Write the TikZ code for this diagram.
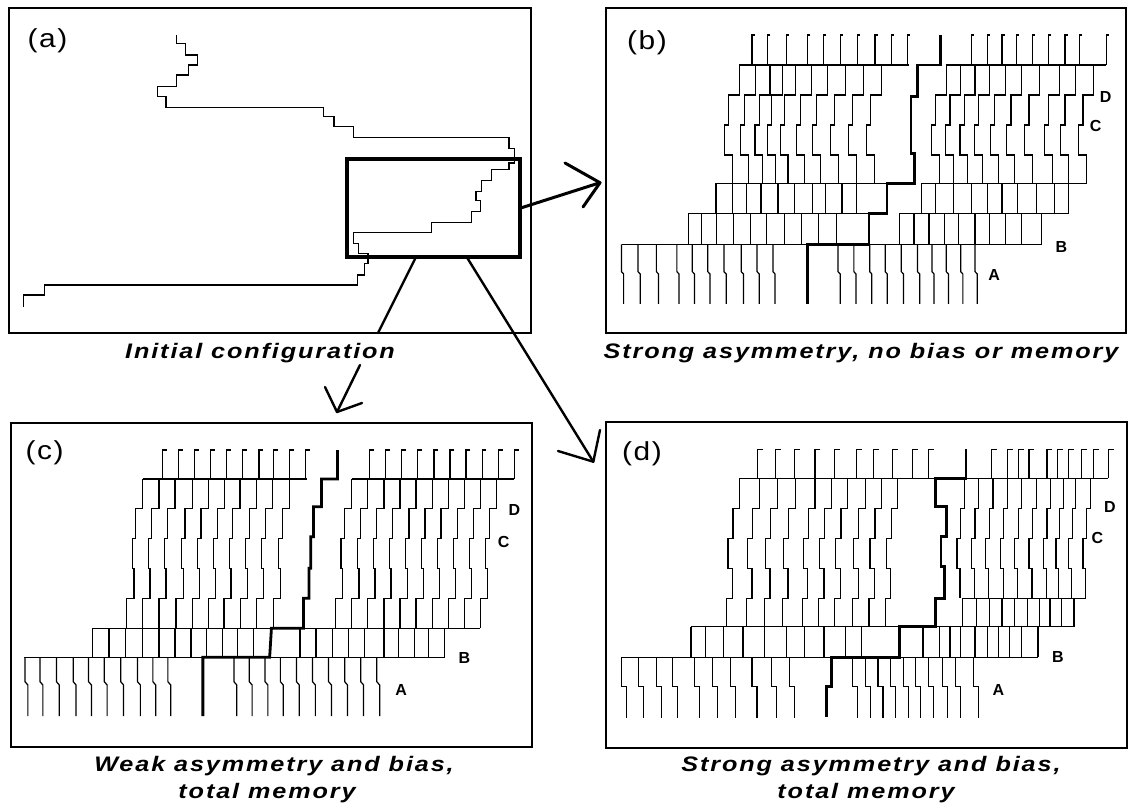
\documentclass[tikz,border=0pt]{standalone}
\usepackage{fontspec}
\newfontfamily\capfont[LetterSpace=9,FakeStretch=1.2]{Liberation Sans}
\newfontfamily\labfont[LetterSpace=6,FakeStretch=1.15]{Liberation Sans}
\newfontfamily\abcfont{Liberation Sans}
\tikzset{
  pat/.style={line width=1.2pt},
  thk/.style={line width=2.8pt},
  frame/.style={line width=1.3pt},
  zoombox/.style={line width=3.6pt},
  arr/.style={line width=2.4pt, line cap=round, line join=round},
  captxt/.style={font=\capfont\bfseries\itshape\fontsize{21}{24}\selectfont, inner sep=0pt, anchor=base},
  plab/.style={font=\labfont\fontsize{26}{28}\selectfont, inner sep=0pt},
  glab/.style={font=\abcfont\bfseries\fontsize{16}{16}\selectfont, inner sep=0pt}
}
\begin{document}
\begin{tikzpicture}[x=1pt,y=-1pt]
\useasboundingbox (0,0) rectangle (1129,805);
\fill[white] (0,0) rectangle (1129,805);

% ---------------- panel frames ----------------
\draw[frame] (9,8) rectangle (531,333);
\draw[frame] (606,8) rectangle (1126,333);
\draw[frame] (11,423) rectangle (532,747);
\draw[frame] (606,422) rectangle (1127,748);

% ---------------- panel labels ----------------
\node[plab] (la) at (47.5,40.5) {(a)};
\node[plab] (lb) at (647,42.5) {(b)};
\node[plab] (lc) at (44.6,452.5) {(c)};
\node[plab] (ld) at (642,454) {(d)};

% ---------------- captions ----------------
\node[captxt] (ca) at (260,358) {Initial configuration};
\node[captxt] (cb) at (861,358) {Strong asymmetry, no bias or memory};
\node[captxt] (cc1) at (274,771.7) {Weak asymmetry and bias,};
\node[captxt] (cc2) at (267,798.3) {total memory};
\node[captxt] (cd1) at (871,771.7) {Strong asymmetry and bias,};
\node[captxt] (cd2) at (866,798.3) {total memory};

% ---------------- panel (a) ----------------
\draw[pat] (176.8,35)--(176.8,43.3)--(185.7,43.3)--(185.7,55)--(197.5,55)--(197.5,65)
  --(188.6,65)--(188.6,75)--(176.8,75)--(176.8,86.7)--(157.1,86.7)--(157.1,96.7)
  --(166,96.7)--(166,107.3)--(323.2,107.3)--(323.2,116.7)--(333.9,116.7)--(333.9,126.7)
  --(353.6,126.7)--(353.6,137.7)--(508.9,137.7)--(508.9,148.3)--(514.3,148.3)--(514.3,163)
  --(509,163)--(509,169.3)--(491.7,169.3)--(491.7,180.7)--(481.7,180.7)--(481.7,191.7)
  --(476,191.7)--(476,200.7)--(480.7,200.7)--(480.7,211.7)--(471.7,211.7)--(471.7,222.7)
  --(431.7,222.7)--(431.7,232.7)--(353.3,232.7)--(353.3,243.3)--(358.3,243.3)--(358.3,253.3)
  --(367.9,253.3)--(367.9,263.3)--(364.3,263.3)--(364.3,275)--(357.1,275)--(357.1,285)
  --(44.6,285)--(44.6,295)--(23.2,295)--(23.2,306.7);
\draw[zoombox] (347,159) rectangle (520,257);

% ---------------- arrows ----------------
\coordinate (s1) at (521.7,207.7);
\coordinate (t1) at (600,182.7);
\coordinate (h1a) at (565,163);
\coordinate (h1b) at (583,207);
\draw[arr,line width=3pt] (s1) -- (t1);
\draw[arr,line width=3pt] (h1a) -- (t1) -- (h1b);

\coordinate (s2) at (416,257);
\coordinate (m2a) at (378,333);
\coordinate (m2b) at (360,365);
\coordinate (t2) at (337,412);
\coordinate (h2a) at (325,387);
\coordinate (h2b) at (362,403);
\draw[arr] (s2) -- (m2a);
\draw[arr] (m2b) -- (t2);
\draw[arr] (h2a) -- (t2) -- (h2b);

\coordinate (s3) at (466.7,257);
\coordinate (t3) at (593.3,461.7);
\coordinate (h3a) at (600,430);
\coordinate (h3b) at (558,451);
\draw[arr] (s3) -- (t3);
\draw[arr] (h3a) -- (t3) -- (h3b);

% ---------------- panel (b) ----------------
\begin{scope}[shift={(565,0)}, x=0.35971pt, y=-0.33333pt]
  \foreach \x in {520,563,615,675,718,765,813,862,908,952,1130,1175,1215,1255,1300,1345,1390,1430,1505}
    \draw[pat] (\x+7,105) -- (\x,105) -- (\x,195);
  \draw[pat] (485,195) -- (955,195);
  \draw[pat] (1060,195) -- (1505,195);
  \foreach \x in {485,530,570,605,640,685,730,780,830,880,1060,1100,1140,1180,1225,1270,1320,1375,1420,1470}
    \draw[pat] (\x,195) -- (\x,285) -- (\x-30,285) -- (\x-30,375) -- (\x-42,375) -- (\x-42,465) -- (\x-20,465) -- (\x-20,550);
  \draw[pat] (420,550) -- (895,550);
  \draw[pat] (990,550) -- (1450,550);
  \foreach \x in {420,465,505,545,592,638,688,725,770,810,990,1030,1080,1130,1175,1215,1258,1310,1360,1400}
    \draw[pat] (\x,550) -- (\x,640);
  \draw[pat] (345,640) -- (845,640);
  \draw[pat] (930,640) -- (1400,640);
  \foreach \x in {343,380,422,468,516,560,611,658,704,755,930,970,1012,1055,1095,1140,1180,1225,1270,1325}
    \draw[pat] (\x,640) -- (\x,733);
  \draw[pat] (158,733) -- (1325,733);
  \foreach \x in {157,203,254,311,354,397,442,490,534,578,759,803,847,890,935,980,1020,1060,1100,1140}
    \draw[pat] (\x,733) -- (\x,815) -- (\x+6,822) -- (\x+6,912);
  \draw[thk] (1043,105) -- (1043,195) -- (980,195) -- (980,290) -- (962,290) -- (962,460) -- (972,460) -- (972,550) -- (895,550) -- (895,640) -- (845,640) -- (845,733) -- (675,733) -- (675,912);
  \node[glab] (bD) at (1503,290) {D};
  \node[glab] (bC) at (1475,378) {C};
  \node[glab] (bB) at (1380,740) {B};
  \node[glab] (bA) at (1193,825) {A};
\end{scope}

% ---------------- panel (c) ----------------
\begin{scope}[shift={(0,400)}, x=0.35714pt, y=-0.33333pt]
  \foreach \x in {455,500,545,590,635,680,725,765,810,855,1035,1080,1125,1170,1215,1260,1305,1350,1395,1440}
    \draw[pat] (\x+12,150) -- (\x,150) -- (\x,237);
  \draw[pat] (400,237) -- (860,237);
  \draw[pat] (985,237) -- (1440,237);
  \foreach \x in {400,445,490,538,583,628,672,718,763,810,985,1030,1075,1120,1165,1210,1255,1300,1345,1390}
    \draw[pat] (\x,237) -- (\x,325) -- (\x-20,325) -- (\x-20,415) -- (\x-30,415) -- (\x-30,505) -- (\x-25,505) -- (\x-25,595) -- (\x-45,595) -- (\x-45,685);
  \draw[pat] (258,685) -- (1345,685);
  \foreach \x in {258,305,352,400,445,490,535,578,622,665,710,840,885,930,975,1020,1075,1115,1160,1200,1245}
    \draw[pat] (\x,685) -- (\x,772);
  \draw[pat] (68,772) -- (1245,772);
  \foreach \x in {70,112,158,205,248,292,338,385,428,470,655,698,742,785,830,875,920,965,1010,1055}
    \draw[pat] (\x,772) -- (\x,845) -- (\x+8,855) -- (\x+8,948);
  \draw[thk] (945,150) -- (945,237) -- (900,237) -- (900,320) -- (878,320) -- (878,410) -- (870,410) -- (870,505) -- (865,505) -- (865,595) -- (850,595) -- (850,685) -- (760,685) -- (755,772) -- (568,772) -- (568,948);
  \node[glab] (cD) at (1440,330) {D};
  \node[glab] (cC) at (1410,425) {C};
  \node[glab] (cB) at (1300,775) {B};
  \node[glab] (cA) at (1123,870) {A};
\end{scope}

% ---------------- panel (d) ----------------
\begin{scope}[shift={(565,400)}, x=0.35971pt, y=-0.33333pt]
  \foreach \x in {535,585,638,695,750,810,858,910,965,1010,1185,1230,1260,1290,1340,1370,1400,1435,1470,1510}
    \draw[pat] (\x+15,148) -- (\x,148) -- (\x,235);
  \draw[pat] (485,235) -- (1030,235);
  \draw[pat] (1110,235) -- (1510,235);
  \foreach \x in {485,540,590,640,695,740,785,835,880,925}
    \draw[pat] (\x,235) -- (\x,325) -- (\x-18,325) -- (\x-18,415) -- (\x-32,415) -- (\x-32,505) -- (\x-20,505) -- (\x-20,595) -- (\x-35,595) -- (\x-35,680);
  \foreach \x in {1110,1150,1190,1230,1270,1310,1350,1385,1420,1460}
    \draw[pat] (\x,235) -- (\x,325) -- (\x-10,325) -- (\x-10,415) -- (\x-20,415) -- (\x-20,505) -- (\x-12,505) -- (\x-12,595);
  \draw[pat] (1105,595) -- (1448,595);
  \foreach \x in {1105,1145,1180,1215,1250,1285,1318,1348,1380,1415}
    \draw[pat] (\x,595) -- (\x,680);
  \draw[pat] (350,680) -- (1415,680);
  \foreach \x in {350,390,440,495,555,615,665,720,780,825,995,1040,1070,1100,1140,1175,1205,1235,1270,1315}
    \draw[pat] (\x,680) -- (\x,772);
  \draw[pat] (158,772) -- (1315,772);
  \foreach \x in {158,205,255,298,360,410,460,520,575,625,800,835,870,905,940,975,1010,1050,1085,1135}
    \draw[pat] (\x,772) -- (\x,860) -- (\x+14,860) -- (\x+14,955);
  \draw[thk] (1115,148) -- (1115,235) -- (1030,235) -- (1030,320) -- (1060,320) -- (1060,410) -- (1045,410) -- (1045,500) -- (1055,500) -- (1055,595) -- (1030,595) -- (1030,680) -- (930,680) -- (930,772) -- (740,772) -- (740,860) -- (728,860) -- (728,950);
  \node[glab] (dD) at (1515,320) {D};
  \node[glab] (dC) at (1480,415) {C};
  \node[glab] (dB) at (1370,772) {B};
  \node[glab] (dA) at (1205,870) {A};
\end{scope}
\end{tikzpicture}
\end{document}
